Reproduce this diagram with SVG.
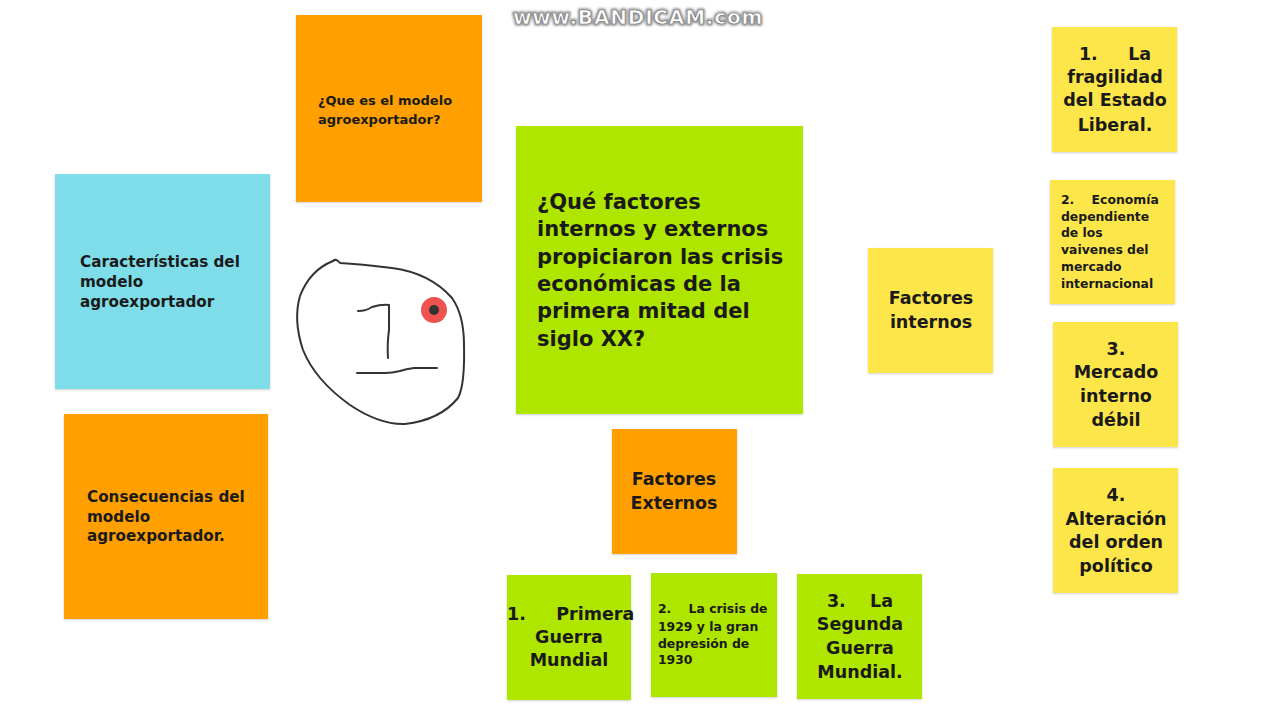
<svg xmlns="http://www.w3.org/2000/svg" width="1280" height="720" viewBox="0 0 1280 720">
<defs>
<filter id="sh" x="-5%" y="-5%" width="110%" height="110%">
<feDropShadow dx="0" dy="1" stdDeviation="1" flood-color="#000" flood-opacity="0.18"/>
</filter>
<filter id="blur" x="-5%" y="-40%" width="110%" height="180%">
<feGaussianBlur stdDeviation="1"/>
</filter>
<style>
.n{filter:url(#sh)}
.o{fill:#ff9f00}.b{fill:#7fdde9}.g{fill:#afe600}.y{fill:#fde649}
text{font-family:"DejaVu Sans","Noto Sans",sans-serif;font-weight:700;fill:#1a1a1a}
.c{text-anchor:middle}
.t13{font-size:13px}.t15{font-size:15.2px}.t18{font-size:17.5px}.t22{font-size:21px}.t12{font-size:12.4px}
.ink{fill:none;stroke:#333;stroke-width:2;stroke-linecap:round;stroke-linejoin:round}
text.wm{font-family:"DejaVu Sans",sans-serif;font-weight:700;font-size:20px;letter-spacing:0.8px;text-anchor:middle}
text.wmb{fill:#9a9a9a;stroke:#9a9a9a;stroke-width:3.5px;stroke-linejoin:round}
text.wmf{fill:#ffffff;stroke:#7a7a7a;stroke-width:0.7px}
</style>
</defs>
<rect width="1280" height="720" fill="#fff"/>

<g id="que-es">
<rect class="n o" x="296" y="15" width="186" height="187"/>
<text class="t13" x="318" y="105">¿Que es el modelo</text>
<text class="t13" x="318" y="124">agroexportador?</text>
</g>

<g id="caracteristicas">
<rect class="n b" x="55" y="174" width="215" height="215"/>
<text class="t15" x="80" y="267">Características del</text>
<text class="t15" x="80" y="287">modelo</text>
<text class="t15" x="80" y="307">agroexportador</text>
</g>

<g id="consecuencias">
<rect class="n o" x="64" y="414" width="204" height="205"/>
<text class="t15" x="87" y="502">Consecuencias del</text>
<text class="t15" x="87" y="522">modelo</text>
<text class="t15" x="87" y="541">agroexportador.</text>
</g>

<g id="pregunta">
<rect class="n g" x="516" y="126" width="287" height="288"/>
<text class="t22" x="537" y="209">¿Qué factores</text>
<text class="t22" x="537" y="236">internos y externos</text>
<text class="t22" x="537" y="264">propiciaron las crisis</text>
<text class="t22" x="537" y="291">económicas de la</text>
<text class="t22" x="537" y="318">primera mitad del</text>
<text class="t22" x="537" y="346">siglo XX?</text>
</g>

<g id="factores-internos">
<rect class="n y" x="868" y="248" width="125" height="125"/>
<text class="t18 c" x="931" y="304">Factores</text>
<text class="t18 c" x="931" y="328">internos</text>
</g>

<g id="factores-externos">
<rect class="n o" x="612" y="429" width="125" height="125"/>
<text class="t18 c" x="674" y="485">Factores</text>
<text class="t18 c" x="674" y="509">Externos</text>
</g>

<g id="interno-1">
<rect class="n y" x="1052" y="27" width="125" height="125"/>
<text class="t18 c" x="1115" y="60" xml:space="preserve">1.     La</text>
<text class="t18 c" x="1115" y="83">fragilidad</text>
<text class="t18 c" x="1115" y="106">del Estado</text>
<text class="t18 c" x="1115" y="131">Liberal.</text>
</g>

<g id="interno-2">
<rect class="n y" x="1050" y="180" width="125" height="124"/>
<text class="t12" x="1061" y="204" xml:space="preserve">2.    Economía</text>
<text class="t12" x="1061" y="221">dependiente</text>
<text class="t12" x="1061" y="237">de los</text>
<text class="t12" x="1061" y="254">vaivenes del</text>
<text class="t12" x="1061" y="271">mercado</text>
<text class="t12" x="1061" y="288">internacional</text>
</g>

<g id="interno-3">
<rect class="n y" x="1053" y="322" width="125" height="125"/>
<text class="t18 c" x="1116" y="355">3.</text>
<text class="t18 c" x="1116" y="378">Mercado</text>
<text class="t18 c" x="1116" y="402">interno</text>
<text class="t18 c" x="1116" y="426">débil</text>
</g>

<g id="interno-4">
<rect class="n y" x="1053" y="468" width="125" height="125"/>
<text class="t18 c" x="1116" y="501">4.</text>
<text class="t18 c" x="1116" y="525">Alteración</text>
<text class="t18 c" x="1116" y="548">del orden</text>
<text class="t18 c" x="1116" y="572">político</text>
</g>

<g id="externo-1">
<rect class="n g" x="507" y="575" width="124" height="125"/>
<text class="t18" x="507" y="620" xml:space="preserve">1.     Primera</text>
<text class="t18 c" x="569" y="643">Guerra</text>
<text class="t18 c" x="569" y="666">Mundial</text>
</g>

<g id="externo-2">
<rect class="n g" x="651" y="573" width="126" height="124"/>
<text class="t12" x="658" y="613" xml:space="preserve">2.    La crisis de</text>
<text class="t12" x="658" y="631">1929 y la gran</text>
<text class="t12" x="658" y="648">depresión de</text>
<text class="t12" x="658" y="664">1930</text>
</g>

<g id="externo-3">
<rect class="n g" x="797" y="574" width="125" height="125"/>
<text class="t18 c" x="860" y="607" xml:space="preserve">3.    La</text>
<text class="t18 c" x="860" y="630">Segunda</text>
<text class="t18 c" x="860" y="654">Guerra</text>
<text class="t18 c" x="860" y="678">Mundial.</text>
</g>

<g id="dibujo">
<path class="ink" d="M333 261 Q336 258 340 263 Q360 264 392 268 Q430 273 452 298 Q464 315 464 345 Q465 385 458 398 Q440 420 405 424 Q380 425 350 405 Q315 380 303 350 Q293 320 300 296 Q310 270 333 261 Z"/>
<path class="ink" d="M358 311 Q366 311 372 307 Q382 304 389 305 L389 330 Q387 345 388 358"/>
<path class="ink" d="M357 373 L385 373 Q392 373 400 371 Q406 369 414 368 L437 368"/>
<circle cx="434" cy="310" r="13" fill="#ef5350"/>
<circle cx="434" cy="310" r="5" fill="#333"/>
</g>

<g id="marca">
<text class="wm wmb" x="638" y="24" filter="url(#blur)">www.BANDICAM.com</text>
<text class="wm wmf" x="638" y="24">www.BANDICAM.com</text>
</g>
<g id="connectors"></g>
</svg>
